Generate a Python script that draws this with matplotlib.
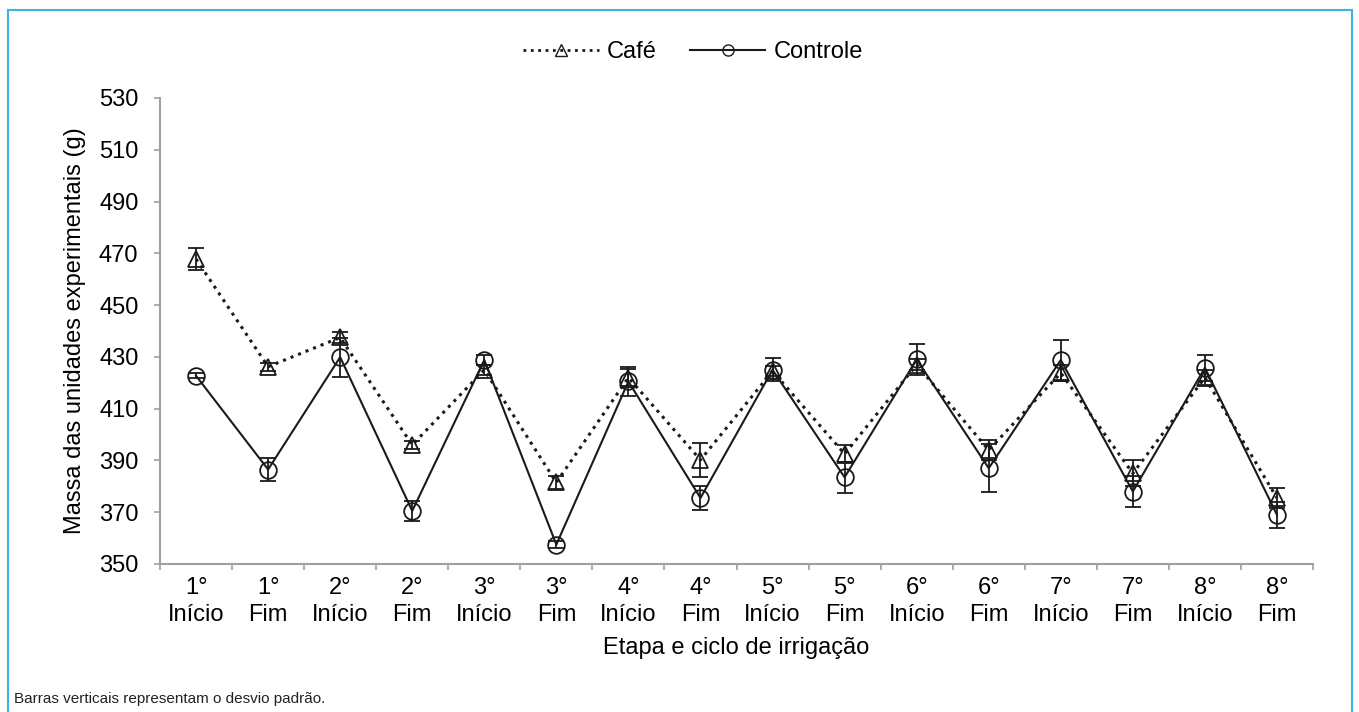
import matplotlib
matplotlib.use('Agg')
import matplotlib.pyplot as plt
import numpy as np
from matplotlib.lines import Line2D

# Etapa / ciclo labels
stages = ['1°', '1°', '2°', '2°', '3°', '3°', '4°', '4°',
          '5°', '5°', '6°', '6°', '7°', '7°', '8°', '8°']
phases = ['Início', 'Fim'] * 8

# mean mass (g) and standard deviation
cafe = [467.8, 426.2, 437.5, 396.0, 425.0, 381.5, 422.0, 390.2,
        424.5, 392.5, 427.0, 394.0, 423.8, 385.0, 422.0, 375.5]
cafe_sd = [4.3, 1.5, 2.0, 1.5, 2.0, 2.5, 3.5, 6.5,
           2.0, 3.5, 2.0, 4.0, 3.0, 5.0, 3.0, 4.0]
controle = [422.7, 386.5, 429.9, 370.5, 428.8, 357.5, 420.5, 375.5,
            425.0, 383.5, 429.0, 387.0, 428.8, 378.0, 425.8, 369.0]
controle_sd = [1.0, 4.3, 7.5, 3.8, 2.0, 1.5, 5.5, 4.7,
               4.5, 6.0, 6.0, 9.3, 7.8, 5.8, 5.0, 5.0]

plt.rcParams['font.family'] = ['Liberation Sans', 'DejaVu Sans']
fs = 17

fig = plt.figure(figsize=(13.59, 7.12), dpi=100)
ax = fig.add_axes([160 / 1359, 1 - 564 / 712, 1153 / 1359, 466 / 712])

x = np.arange(len(cafe))
ink = '#1a1a1a'

ax.errorbar(x, cafe, yerr=cafe_sd, color=ink, linestyle=':', linewidth=2.2,
            marker='^', markersize=12, markerfacecolor='none', markeredgewidth=1.3,
            ecolor=ink, elinewidth=1.3, capsize=6, capthick=1.3, label='Café')
ax.errorbar(x, controle, yerr=controle_sd, color=ink, linestyle='-', linewidth=1.5,
            marker='o', markersize=12, markerfacecolor='none', markeredgewidth=1.3,
            ecolor=ink, elinewidth=1.3, capsize=6, capthick=1.3, label='Controle')

ax.set_xlim(-0.5, len(cafe) - 0.5)
ax.set_ylim(350, 530)
ax.set_yticks(np.arange(350, 531, 20))
ax.set_xticks(x)
ax.set_xticklabels([s + '\n' + p for s, p in zip(stages, phases)], fontsize=fs,
                   linespacing=1.3)
ax.set_xticks(np.arange(-0.5, len(cafe), 1.0), minor=True)
ax.tick_params(axis='x', which='major', length=0, pad=9)
ax.tick_params(axis='x', which='minor', length=4.5, color='#a0a0a0', width=1.2)
ax.tick_params(axis='y', length=4.5, color='#a0a0a0', width=1.2, labelsize=fs, pad=11)

for side in ['top', 'right']:
    ax.spines[side].set_visible(False)
for side in ['left', 'bottom']:
    ax.spines[side].set_color('#a0a0a0')
    ax.spines[side].set_linewidth(1.5)

ax.set_xlabel('Etapa e ciclo de irrigação', fontsize=fs, labelpad=8)
ax.set_ylabel('Massa das unidades experimentais (g)', fontsize=fs, labelpad=9)

handles = [
    Line2D([], [], color=ink, linestyle=':', linewidth=2.0, marker='^',
           markersize=8, markerfacecolor='none'),
    Line2D([], [], color=ink, linestyle='-', linewidth=1.5, marker='o',
           markersize=8, markerfacecolor='none'),
]
fig.legend(handles, ['Café', 'Controle'], loc='center', bbox_to_anchor=(693 / 1359, 1 - 52 / 712),
           ncol=2, frameon=False, fontsize=fs, handlelength=3.2, columnspacing=1.4,
           handletextpad=0.35, borderpad=0)

# blue frame around the figure
blue = '#3fb4e0'
fig.add_artist(Line2D([8 / 1359, 8 / 1359], [0, 1 - 10 / 712], color=blue, lw=1.5))
fig.add_artist(Line2D([8 / 1359, 1352 / 1359], [1 - 10 / 712, 1 - 10 / 712], color=blue, lw=1.5))
fig.add_artist(Line2D([1352 / 1359, 1352 / 1359], [0, 1 - 10 / 712], color=blue, lw=1.5))

fig.text(14 / 1359, 1 - 699 / 712, 'Barras verticais representam o desvio padrão.',
         fontsize=11, va='center', ha='left', color='#222222')

fig.savefig('out.png', dpi=100)
